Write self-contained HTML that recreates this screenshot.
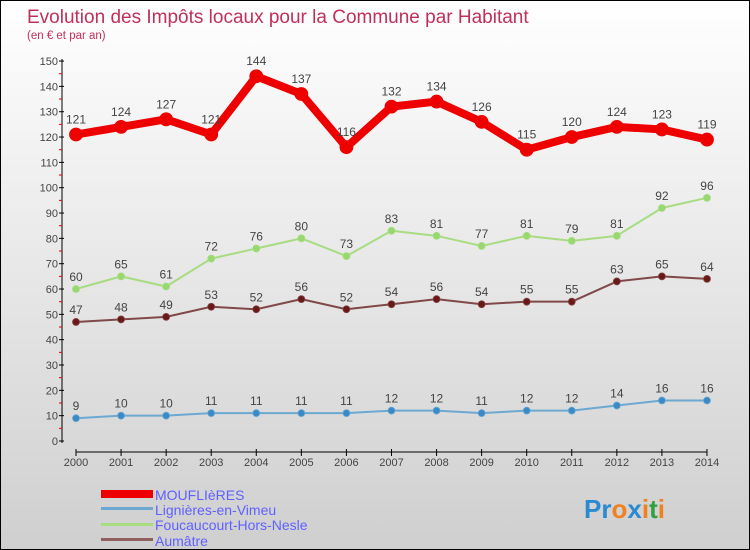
<!DOCTYPE html>
<html><head><meta charset="utf-8"><style>
body{margin:0}
#c{position:relative;width:748px;height:548px;border:1px solid #000;background:linear-gradient(#ffffff,#cfcfcf);overflow:hidden;font-family:"Liberation Sans",sans-serif}
text{font-family:"Liberation Sans",sans-serif}
</style></head><body>
<div id="c">
<svg id="s" width="748" height="548">
<text x="26" y="22" font-size="19" fill="#c0305a">Evolution des Impôts locaux pour la Commune par Habitant</text>
<text x="26" y="38" font-size="11.5" fill="#c0305a">(en € et par an)</text>
<g id="axes"></g><g id="series"></g>
<g>
<rect x="100" y="489" width="52" height="8" fill="#ee0000"/>
<text x="154" y="499" font-size="14" fill="#6060ff">MOUFLIèRES</text>
<rect x="100" y="506" width="52" height="3" fill="#6ca8d0"/>
<text x="154" y="514" font-size="14" fill="#6060ff">Lignières-en-Vimeu</text>
<rect x="100" y="522" width="52" height="3" fill="#a8dc80"/>
<text x="154" y="529" font-size="14" fill="#6060ff">Foucaucourt-Hors-Nesle</text>
<rect x="100" y="537" width="52" height="3" fill="#906060"/>
<text x="154" y="545" font-size="14" fill="#6060ff">Aumâtre</text>
</g>
<text x="583" y="517" font-size="26" font-weight="bold"><tspan fill="#2a8ad0">Pr</tspan><tspan fill="#f08020">o</tspan><tspan fill="#2a8ad0">x</tspan><tspan fill="#f08020">i</tspan><tspan fill="#30a040">t</tspan><tspan fill="#f08020">i</tspan></text>
</svg></div>
<script>
const years=[2000,2001,2002,2003,2004,2005,2006,2007,2008,2009,2010,2011,2012,2013,2014];
const moufliers=[121,124,127,121,144,137,116,132,134,126,115,120,124,123,119];
const lignieres=[9,10,10,11,11,11,11,12,12,11,12,12,14,16,16];
const foucaucourt=[60,65,61,72,76,80,73,83,81,77,81,79,81,92,96];
const aumatre=[47,48,49,53,52,56,52,54,56,54,55,55,63,65,64];
const yTicks=[0,10,20,30,40,50,60,70,80,90,100,110,120,130,140,150];
const NS="http://www.w3.org/2000/svg";
const X=i=>75+i*45.07, Y=v=>440-v*2.533;
function mk(t,a,p){const e=document.createElementNS(NS,t);for(const k in a)e.setAttribute(k,a[k]);p.appendChild(e);return e;}
const ax=document.getElementById('axes'), sg=document.getElementById('series');
let l=mk('line',{x1:61,y1:58,x2:61,y2:442,stroke:'#000','stroke-width':1},ax);


l=mk('line',{x1:75,y1:451,x2:706,y2:451,stroke:'#000','stroke-width':1},ax);


yTicks.forEach(v=>{const y=Y(v);
 mk('line',{x1:58,y1:y,x2:63,y2:y,stroke:'#000'},ax);
 if(v<150) mk('line',{x1:58,y1:y-12.66,x2:61,y2:y-12.66,stroke:'#e00000'},ax);
 const t=mk('text',{x:57,y:y+4,'font-size':11,fill:'#444','text-anchor':'end'},ax);t.textContent=v;
 
 });
years.forEach((yr,i)=>{const x=X(i);
 mk('line',{x1:x,y1:448,x2:x,y2:455,stroke:'#000'},ax);
 const t=mk('text',{x:x,y:465,'font-size':11,fill:'#444','text-anchor':'middle'},ax);t.textContent=yr;
 
 });
function series(d,name,col,dot,w,r){
 const g=mk('g',{},sg);
 
 
 mk('polyline',{points:d.map((v,i)=>X(i)+','+Y(v)).join(' '),fill:'none',stroke:col,'stroke-width':w,'stroke-linejoin':'round'},g);
 d.forEach((v,i)=>{const c=mk('circle',{cx:X(i),cy:Y(v),r:r,fill:dot,stroke:col,'stroke-width':0.8},g);
  
  
  const t=mk('text',{x:X(i),y:Y(v)-8-(r>4?3:0),'font-size':12,fill:'#444','text-anchor':'middle'},g);t.textContent=v;
  
  });
}
series(lignieres,'lignieres','#6ca8d0','#3a8ac8',2,3.5);
series(aumatre,'aumatre','#804848','#6a1818',2,3.5);
series(foucaucourt,'foucaucourt','#a8dc80','#98d870',2,3.5);
series(moufliers,'moufliers','#ee0000','#ee0000',8,6.5);
</script>
</body></html>
